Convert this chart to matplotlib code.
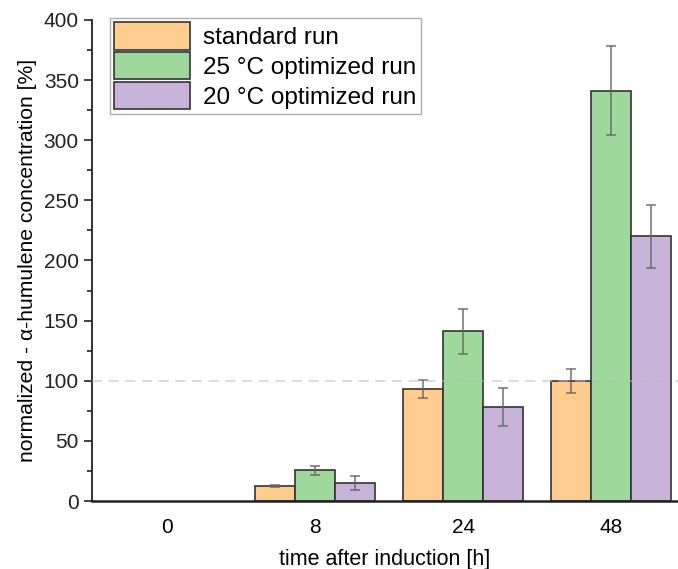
import matplotlib.pyplot as plt
import numpy as np

plt.rcParams["font.family"] = ["Liberation Sans", "DejaVu Sans"]

categories = ["0", "8", "24", "48"]
series = ["standard run", "25 °C optimized run", "20 °C optimized run"]
standard = [0, 12.5, 93, 100]
standard_err = [0, 0.5, 7.5, 10]
opt25 = [0, 25.5, 141, 341]
opt25_err = [0, 3.5, 19, 37]
opt20 = [0, 15, 78, 220]
opt20_err = [0, 5.5, 16, 26]

colors = ["#FFCC8F", "#9ED89A", "#C7B4D8"]

fig = plt.figure(figsize=(6.78, 5.69), dpi=100)
ax = fig.add_axes([0.1357, 0.1195, 0.8643, 0.8455])

x = np.arange(len(categories))
width = 0.27
for i, (vals, errs, lab, col) in enumerate(
    zip([standard, opt25, opt20], [standard_err, opt25_err, opt20_err], series, colors)
):
    pos = x + (i - 1) * width
    vals = np.asarray(vals, dtype=float)
    errs = np.asarray(errs, dtype=float)
    # zero-height bars get no outline or error bar, so the baseline stays clean
    lw = [1.2 if v > 0 else 0 for v in vals]
    ax.bar(pos, vals, width, color=col, edgecolor="#333333", linewidth=lw, label=lab, zorder=2)
    keep = vals > 0
    ax.errorbar(pos[keep], vals[keep], yerr=errs[keep], fmt="none", ecolor="#666666",
                alpha=0.85, elinewidth=1.2, capsize=3.5, capthick=1.2, zorder=3)

# reference level, drawn faintly over the bars
ax.axhline(100, color="#bbbbbb", alpha=0.6, linestyle=(0, (6, 4)), linewidth=1.2, zorder=4)

ax.set_xlim(-0.507, 3.45)
ax.set_ylim(0, 400)
ax.set_xticks(x)
ax.set_xticklabels(categories)
ax.set_yticks(np.arange(0, 401, 50))
ax.set_yticks(np.arange(0, 401, 25), minor=True)
ax.tick_params(axis="x", length=0, labelsize=15, pad=12)
ax.tick_params(axis="y", which="major", length=6, width=1.2, labelsize=15, colors="#222222")
ax.tick_params(axis="y", which="minor", length=3.5, width=1.2, colors="#222222")
ax.spines["top"].set_visible(False)
ax.spines["right"].set_visible(False)
ax.spines["left"].set_linewidth(1.3)
ax.spines["bottom"].set_linewidth(1.8)
ax.spines["left"].set_color("#222222")
ax.spines["bottom"].set_color("#222222")
ax.spines["bottom"].set_zorder(5)

ax.set_xlabel("time after induction [h]", fontsize=15.5, labelpad=9)
ax.set_ylabel("normalized - α-humulene concentration [%]", fontsize=15.2, labelpad=5)

leg = ax.legend(loc="upper left", bbox_to_anchor=(0.03, 1.005), fontsize=17.5, frameon=True,
                fancybox=False, edgecolor="#999999", handlelength=3.1, handleheight=1.35,
                handletextpad=0.55, labelspacing=0.1, borderpad=0.2, borderaxespad=0)
leg.get_frame().set_linewidth(1.0)
for h in leg.legend_handles:
    h.set_linewidth(1.2)

fig.savefig("out.png", dpi=100)
